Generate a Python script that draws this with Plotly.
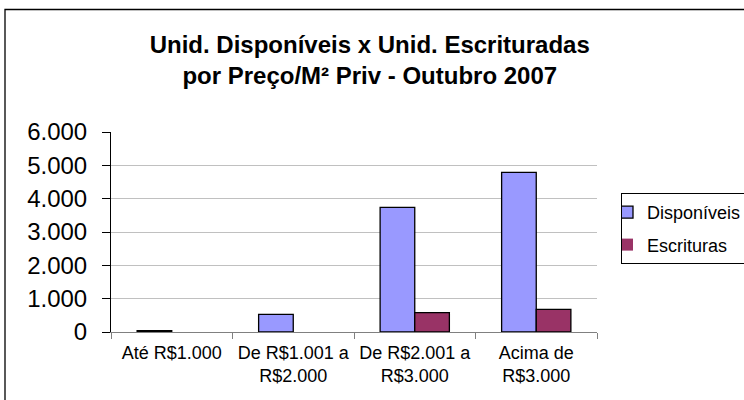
import plotly.graph_objects as go

categories = ["Até R$1.000", "De R$1.001 a<br>R$2.000", "De R$2.001 a<br>R$3.000", "Acima de<br>R$3.000"]
disponiveis = [40, 530, 3740, 4790]
escrituras = [0, 0, 580, 680]
y_ticks = [0, 1000, 2000, 3000, 4000, 5000, 6000]
y_tick_labels = ["0", "1.000", "2.000", "3.000", "4.000", "5.000", "6.000"]

W, H = 744, 400
L, R, T, B = 111, 147, 132, 68
pw, ph = W - L - R, H - T - B

def px_x(p):
    return (p - L) / pw

def px_y(p):
    return (H - B - p) / ph

font_family = "Liberation Sans, Arial, sans-serif"

fig = go.Figure()
fig.add_trace(go.Bar(
    x=categories, y=disponiveis, name="Disponíveis",
    marker=dict(color="#9999FF",
                line=dict(color="black", width=[0 if v == 0 else 1.3 for v in disponiveis])),
    legendgroup="a",
))
fig.add_trace(go.Bar(
    x=categories, y=escrituras, name="Escrituras",
    marker=dict(color="#993366",
                line=dict(color="black", width=[0 if v == 0 else 1.3 for v in escrituras])),
    legendgroup="b",
))

fig.update_layout(
    width=W, height=H,
    margin=dict(l=L, r=R, t=T, b=B, autoexpand=False),
    paper_bgcolor="white", plot_bgcolor="white",
    font=dict(family=font_family, color="black"),
    barmode="group", bargap=0.43, bargroupgap=0,
    title=dict(
        text="Unid. Disponíveis x Unid. Escrituradas<br>por Preço/M² Priv - Outubro 2007",
        font=dict(size=24, family=font_family, color="black", weight="bold"),
        x=0.497, xref="container", xanchor="center",
        y=1 - 53 / H, yref="container", yanchor="middle",
    ),
    showlegend=True,
    legend=dict(
        x=px_x(621), y=px_y(193), xanchor="left", yanchor="top",
        bordercolor="black", borderwidth=1, bgcolor="white",
        font=dict(size=18, family=font_family),
        traceorder="grouped", tracegroupgap=6,
        indentation=-15,
    ),
    shapes=[dict(
        type="rect", xref="paper", yref="paper",
        x0=px_x(5), x1=px_x(760), y0=px_y(420), y1=px_y(9.5),
        line=dict(color="black", width=1.3), fillcolor="rgba(0,0,0,0)", layer="below",
    )],
)

fig.update_xaxes(
    showline=True, linecolor="#808080", linewidth=1.3,
    ticks="outside", tickson="boundaries", ticklen=6, tickcolor="#808080",
    tickfont=dict(size=18, family=font_family),
    ticklabelstandoff=4,
    showgrid=False,
)
fig.update_yaxes(
    range=[0, 6000], tickvals=y_ticks, ticktext=y_tick_labels,
    showline=True, linecolor="black", linewidth=1,
    ticks="outside", ticklen=8, tickcolor="black",
    tickfont=dict(size=24, family=font_family),
    ticklabelstandoff=10,
    showgrid=True, gridcolor="#c0c0c0", gridwidth=1,
    zeroline=False,
)

fig.write_html(
    "out.html",
    config={"displayModeBar": False},
    post_script="document.body.style.margin='0';document.body.style.overflow='hidden';",
)
